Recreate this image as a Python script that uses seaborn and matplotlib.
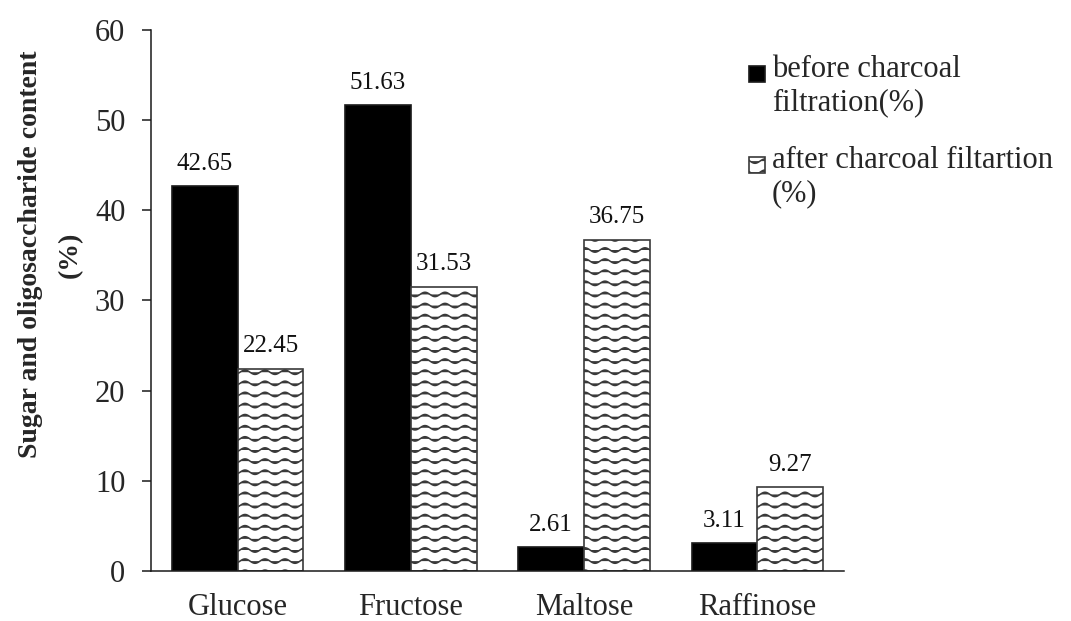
import warnings
import numpy as np
import pandas as pd
import matplotlib
matplotlib.use("Agg")
import matplotlib.pyplot as plt
import matplotlib.hatch as mhatch
import matplotlib.patches as mpatches
from matplotlib.path import Path
from matplotlib.legend_handler import HandlerPatch
import seaborn as sns

# --- data -------------------------------------------------------------
sugars = ["Glucose", "Fructose", "Maltose", "Raffinose"]
before_filtration = [42.65, 51.63, 2.61, 3.11]
after_filtration = [22.45, 31.53, 36.75, 9.27]
series_labels = ["before charcoal\nfiltration(%)",
                 "after charcoal filtartion\n(%)"]
y_ticks = [0, 10, 20, 30, 40, 50, 60]


# --- wavy hatch: '~' draws rows of small waves ---------------------------
class WavyHatch(mhatch.HatchPatternBase):
    rows = 9
    waves = 5
    pts = 101

    def __init__(self, hatch, density):
        n = hatch.count("~")
        self.num_rows = self.rows if n else 0
        self.num_vertices = self.num_rows * self.pts

    def set_vertices_and_codes(self, vertices, codes):
        x = np.linspace(0.0, 1.0, self.pts)
        y = 0.022 * np.sin(2 * np.pi * self.waves * x)
        for i in range(self.num_rows):
            sl = slice(i * self.pts, (i + 1) * self.pts)
            vertices[sl, 0] = x
            vertices[sl, 1] = (i + 0.5) / self.num_rows + y
            codes[sl] = Path.LINETO
            codes[i * self.pts] = Path.MOVETO


mhatch._hatch_types.append(WavyHatch)
warnings.filterwarnings("ignore", message=".*hatch must consist.*")

# --- style ------------------------------------------------------------
sns.set_style("white")
plt.rcParams["font.family"] = ["Liberation Serif", "DejaVu Serif"]
plt.rcParams["hatch.linewidth"] = 1.1

df = pd.DataFrame({
    "sugar": sugars * 2,
    "content": before_filtration + after_filtration,
    "stage": [series_labels[0]] * len(sugars) + [series_labels[1]] * len(sugars),
})

fig = plt.figure(figsize=(10.71, 6.21), dpi=100)
ax = fig.add_axes([0.141, 0.0805, 0.788 - 0.141, 0.952 - 0.0805])

sns.barplot(data=df, x="sugar", y="content", hue="stage",
            palette=["black", "white"], saturation=1, width=0.76,
            edgecolor="#1a1a1a", linewidth=1.2, legend=False, ax=ax)

before_bars, after_bars = ax.containers[0], ax.containers[1]
for bar in after_bars:
    bar.set_hatch("~")
    bar.set_edgecolor("#3a3a3a")

for cont in (before_bars, after_bars):
    ax.bar_label(cont, fmt="%.2f", padding=8, fontsize=18, color="#111111")

ax.set_xlim(-0.5, 3.5)
ax.set_ylim(0, 60)
ax.set_yticks(y_ticks)
ax.set_xlabel("")
ax.set_ylabel("Sugar and oligosaccharide content\n(%)", fontsize=20,
              fontweight="bold", linespacing=1.8)
ax.yaxis.set_label_coords(-0.098, 0.585)

sns.despine(ax=ax)
for side in ("left", "bottom"):
    ax.spines[side].set_color("#1a1a1a")
    ax.spines[side].set_linewidth(1.1)

ax.tick_params(axis="y", which="major", direction="out", length=6.5,
               width=1.1, color="#1a1a1a", pad=12, labelsize=22,
               left=True)
ax.tick_params(axis="x", length=0, pad=16, labelsize=22)


def raised_square(legend, orig_handle, xdescent, ydescent, width, height,
                  fontsize):
    size = 0.52 * fontsize
    return mpatches.Rectangle((-xdescent, -ydescent + 0.45 * fontsize),
                              size, size)


handles = [before_bars[0], after_bars[0]]
fig.legend(handles, series_labels, loc="upper left",
           bbox_to_anchor=(749 / 1071, 1 - 55 / 621),
           frameon=False, fontsize=22, borderpad=0, borderaxespad=0,
           handlelength=0.55, handleheight=0.55, handletextpad=0.2,
           labelspacing=0.93,
           handler_map={mpatches.Rectangle: HandlerPatch(patch_func=raised_square)})

fig.savefig("out.png", dpi=100)
